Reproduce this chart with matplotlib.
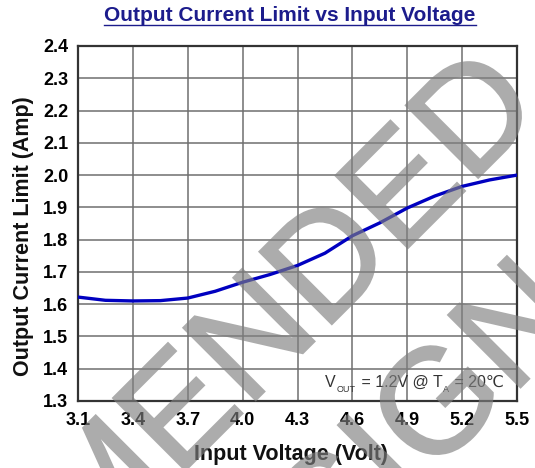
import matplotlib
matplotlib.use("Agg")
import numpy as np
import matplotlib.pyplot as plt
from matplotlib.lines import Line2D
from matplotlib.textpath import TextPath
from matplotlib.patches import PathPatch
from matplotlib.font_manager import FontProperties
import matplotlib.transforms as mtransforms

# ---- data ----
voltage = [3.1, 3.25, 3.4, 3.55, 3.7, 3.85, 4.0, 4.15, 4.3, 4.45, 4.6, 4.75, 4.9, 5.05, 5.2, 5.35, 5.5]
current = [1.622, 1.612, 1.610, 1.611, 1.619, 1.640, 1.668, 1.692, 1.720, 1.758, 1.812, 1.852, 1.898, 1.935, 1.965, 1.985, 2.000]
x_ticks = [3.1, 3.4, 3.7, 4.0, 4.3, 4.6, 4.9, 5.2, 5.5]
y_ticks = [1.3, 1.4, 1.5, 1.6, 1.7, 1.8, 1.9, 2.0, 2.1, 2.2, 2.3, 2.4]
title = "Output Current Limit vs Input Voltage"
x_label = "Input Voltage (Volt)"
y_label = "Output Current Limit (Amp)"
watermark_lines = ["NOT RECOMMENDED", "FOR NEW DESIGN"]

W, H = 535, 468
plt.rcParams['font.family'] = ['Liberation Sans', 'DejaVu Sans']

fig = plt.figure(figsize=(W / 100, H / 100), dpi=100)
fig.patch.set_facecolor('white')

def fx(px):
    return px / W

def fy(py):
    return 1 - py / H

left, right, top, bottom = 78, 517, 46, 401
ax = fig.add_axes([fx(left), fy(bottom), fx(right - left), (bottom - top) / H])

ax.plot(voltage, current, color='#0000c0', lw=2.4, zorder=3)
ax.set_xlim(3.1, 5.5)
ax.set_ylim(1.3, 2.4)
ax.set_xticks(x_ticks)
ax.set_yticks(y_ticks)
ax.set_xticklabels([f"{v:.1f}" for v in x_ticks], fontsize=13, fontweight='bold')
ax.set_yticklabels([f"{v:.1f}" for v in y_ticks], fontsize=13, fontweight='bold')
ax.tick_params(axis='x', length=0, pad=8)
ax.tick_params(axis='y', length=0, pad=7)
ax.grid(True, color='#6f6f6f', lw=1.1)
ax.set_axisbelow(True)
for s in ax.spines.values():
    s.set_color('#333333')
    s.set_linewidth(1.6)

fig.text(fx(291), fy(460), x_label, ha='center', va='baseline',
         fontsize=15.5, fontweight='bold', color='#111111')
fig.text(fx(24), fy(236.5), y_label, ha='center', va='center', rotation=90,
         fontsize=15.5, fontweight='bold', color='#111111')

# title with underline
t = fig.text(fx(290), fy(21), title, ha='center', va='baseline',
             fontsize=15, fontweight='bold', color='#1c1c8c')
fig.canvas.draw()
r = fig.canvas.get_renderer()
bb = t.get_window_extent(r)
fig.add_artist(Line2D([bb.x0 / W, bb.x1 / W], [fy(24.5), fy(24.5)], color='#1c1c8c', lw=1.0))

# annotation with subscripts
pieces = [("V", 11.5, 0), ("OUT", 6.5, -5), (" = 1.2V @ T", 11.5, 0), ("A", 6.5, -5), (" = 20\u2103", 11.5, 0)]
xpos = 325
for txt, fs, dy in pieces:
    tt = fig.text(fx(xpos), fy(387 - dy), txt, ha='left', va='baseline', fontsize=fs,
                  color='#333333', family=['Liberation Sans', 'DejaVu Sans'])
    b = tt.get_window_extent(r)
    xpos += b.width + 1

# watermark: glyph outlines (slightly emboldened), rotated 45 deg,
# rendered to a coverage mask and overlaid semi-transparently
fp = FontProperties(family='Liberation Sans', weight='normal')
ends = [(540.6, 115.4), (579.4, 328.6)]
mfig = plt.figure(figsize=(W / 100, H / 100), dpi=100)
mfig.patch.set_facecolor('white')
to_mfig = mtransforms.Affine2D().scale(1 / W, 1 / H) + mfig.transFigure
for line, (ex, ey) in zip(watermark_lines, ends):
    tp = TextPath((0, 0), line, size=149, prop=fp)
    xmax = tp.get_extents().x1
    tr = mtransforms.Affine2D().translate(-xmax, 0).rotate_deg(45).translate(ex, H - ey)
    mfig.add_artist(PathPatch(tp, facecolor='black', edgecolor='black', lw=1.4,
                              transform=tr + to_mfig))
mfig.canvas.draw()
buf = np.asarray(mfig.canvas.buffer_rgba()).astype(float)
cover = 1.0 - buf[..., 0] / 255.0
plt.close(mfig)
overlay = np.zeros((buf.shape[0], buf.shape[1], 4))
overlay[..., :3] = 0.5
overlay[..., 3] = cover * 0.65
fig.figimage(overlay, xo=0, yo=0, origin='upper', zorder=10)

fig.savefig("out.png", dpi=100)
